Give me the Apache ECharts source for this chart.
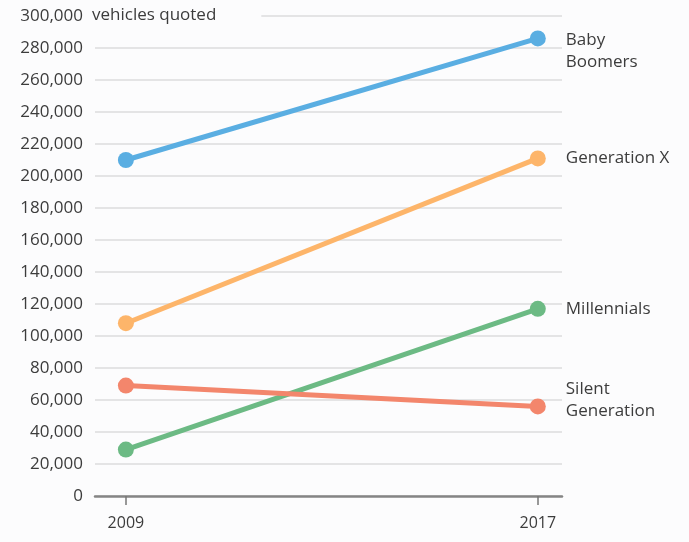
<!DOCTYPE html>
<html><head><meta charset="utf-8">
<script src="https://cdn.jsdelivr.net/npm/echarts@6/dist/echarts.min.js"></script>
<style>html,body{margin:0;padding:0;background:#fcfcfd}#c{width:689px;height:542px}</style>
</head><body><div id="c"></div>
<script>
const years = [2009, 2017];
const yTicks = [0,20000,40000,60000,80000,100000,120000,140000,160000,180000,200000,220000,240000,260000,280000,300000];
const seriesNames = ['Baby Boomers','Generation X','Millennials','Silent Generation'];
const babyBoomers = [210000, 286000];
const generationX = [108000, 211000];
const millennials = [29000, 117000];
const silentGeneration = [69000, 56000];
const labelTexts = ['Baby\nBoomers','Generation X','Millennials','Silent\nGeneration'];

const colors = ['#5aaee2','#fdb56a','#6cba84','#f3866c'];
const offsets = [[0,13],[0,0],[0,0],[0,-6]];
const values = [babyBoomers, generationX, millennials, silentGeneration];
const font = '"Open Sans", sans-serif';
const txt = '#3c3c3c';

const chart = echarts.init(document.getElementById('c'));
chart.setOption({
  backgroundColor: '#fcfcfd',
  animation: false,
  grid: {left: 95, right: 127, top: 16, bottom: 46, containLabel: false},
  xAxis: {
    type: 'value', min: 2008.4, max: 2017.47,
    splitLine: {show: false},
    axisLine: {show: true, lineStyle: {color: '#858585', width: 2.5}},
    axisTick: {show: true, customValues: years, length: 9, lineStyle: {color: '#777', width: 1.5}},
    axisLabel: {customValues: years, color: txt, fontFamily: font, fontSize: 16, margin: 19, formatter: v => String(v)}
  },
  yAxis: {
    type: 'value', min: 0, max: 300000, interval: 20000,
    axisLine: {show: false}, axisTick: {show: false},
    splitLine: {lineStyle: {color: '#dcdcdc', width: 1.5}},
    axisLabel: {color: txt, fontFamily: font, fontSize: 17, margin: 12,
      formatter: v => v.toLocaleString('en-US')}
  },
  graphic: [{
    type: 'text', left: 89, top: 5, z: 100,
    style: {text: 'vehicles quoted', fill: txt, font: '17px ' + font,
      backgroundColor: '#fcfcfd', padding: [2, 45, 2, 3]}
  }],
  series: seriesNames.map((n, i) => ({
    name: n, type: 'line',
    data: years.map((y, j) => [y, values[i][j]]),
    symbol: 'circle', symbolSize: 16,
    lineStyle: {color: colors[i], width: 5},
    itemStyle: {color: colors[i]},
    endLabel: {show: true, formatter: () => labelTexts[i], color: txt,
      fontFamily: font, fontSize: 17, lineHeight: 22, distance: 28, offset: offsets[i], align: 'left'}
  }))
});
</script></body></html>
